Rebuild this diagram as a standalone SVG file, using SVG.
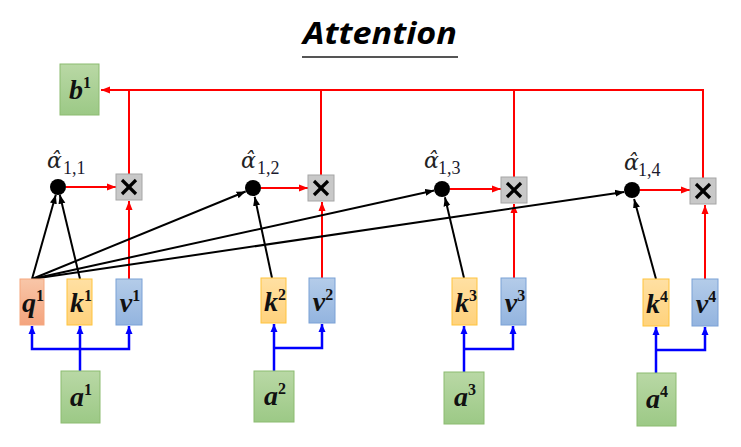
<svg xmlns="http://www.w3.org/2000/svg" width="741" height="447" viewBox="0 0 741 447">
<style>
.lbl{font-family:"Liberation Serif","DejaVu Serif",serif;font-weight:bold;font-style:italic;font-size:28px;fill:#111;text-anchor:middle}
.sup{font-size:16px;font-style:normal;font-weight:bold}
.al{font-family:"DejaVu Serif","Liberation Serif",serif;font-style:italic;font-size:22px;fill:#222}
.sub{font-family:"Liberation Serif","DejaVu Serif",serif;font-size:18px;fill:#1a1a2e}
.bk{stroke:#000;stroke-width:2;fill:none;marker-end:url(#ab)}
.rd{stroke:#f00;stroke-width:2;fill:none}
.rda{stroke:#f00;stroke-width:2;fill:none;marker-end:url(#ar)}
.bla{stroke:#00f;stroke-width:2.5;fill:none;marker-end:url(#au)}
.q{fill:url(#gq);stroke:#f5a77f;stroke-width:1}
.k{fill:url(#gk);stroke:#ffc33d;stroke-width:1}
.v{fill:url(#gv);stroke:#7aa1d6;stroke-width:1}
.g{fill:url(#gg);stroke:#8cbb70;stroke-width:1}
.x{fill:#c8c8c8;stroke:#a6a6a6;stroke-width:1}
.xl{stroke:#000;stroke-width:3.2;stroke-linecap:butt}
</style>
<defs>
<linearGradient id="gq" x1="0" y1="0" x2="0" y2="1"><stop offset="0" stop-color="#f8c6a8"/><stop offset="1" stop-color="#f4a47e"/></linearGradient>
<linearGradient id="gk" x1="0" y1="0" x2="0" y2="1"><stop offset="0" stop-color="#ffe0a3"/><stop offset="1" stop-color="#ffd27c"/></linearGradient>
<linearGradient id="gv" x1="0" y1="0" x2="0" y2="1"><stop offset="0" stop-color="#b4cce9"/><stop offset="1" stop-color="#93b4df"/></linearGradient>
<linearGradient id="gg" x1="0" y1="0" x2="0" y2="1"><stop offset="0" stop-color="#b9d8a5"/><stop offset="1" stop-color="#9cc986"/></linearGradient>
<marker id="ab" markerUnits="userSpaceOnUse" markerWidth="10" markerHeight="10" refX="9" refY="5" orient="auto"><path d="M0,1.5 L9,5 L0,8.5 z" fill="#000"/></marker>
<marker id="ar" markerUnits="userSpaceOnUse" markerWidth="10" markerHeight="10" refX="9" refY="5" orient="auto"><path d="M0,1.5 L9,5 L0,8.5 z" fill="#f00"/></marker>
<marker id="au" markerUnits="userSpaceOnUse" markerWidth="10" markerHeight="10" refX="8" refY="5" orient="auto"><path d="M0,1.5 L8,5 L0,8.5 z" fill="#00f"/></marker>
<g id="mul"><rect class="x" x="0" y="0" width="26" height="26"/><line class="xl" x1="6" y1="6" x2="20" y2="20"/><line class="xl" x1="20" y1="6" x2="6" y2="20"/></g>
</defs>

<g id="title">
<text x="380" y="44" font-family="'Open Sans','Liberation Sans',sans-serif" font-weight="bold" font-style="italic" font-size="31" text-anchor="middle" textLength="154" lengthAdjust="spacingAndGlyphs" fill="#000">Attention</text>
<line x1="302" y1="57" x2="458" y2="57" stroke="#555" stroke-width="2"/>
</g>

<g id="connectors">
<polyline class="rda" points="703,178 703,90 101,90"/>
<line class="rd" x1="129" y1="174" x2="129" y2="90"/>
<line class="rd" x1="321" y1="175" x2="321" y2="90"/>
<line class="rd" x1="514" y1="177" x2="514" y2="90"/>
<line class="rda" x1="66" y1="187" x2="116" y2="187"/>
<line class="rda" x1="261" y1="188" x2="308" y2="188"/>
<line class="rda" x1="450" y1="189" x2="501" y2="189"/>
<line class="rda" x1="640" y1="190" x2="690" y2="190"/>
<line class="rda" x1="129" y1="279" x2="129" y2="201"/>
<line class="rda" x1="322" y1="278" x2="322" y2="202"/>
<line class="rda" x1="514" y1="278" x2="514" y2="204"/>
<line class="rda" x1="705" y1="279" x2="705" y2="205"/>
<line class="bk" x1="32" y1="279" x2="55.8" y2="194.7"/>
<line class="bk" x1="80" y1="279" x2="59.8" y2="194.8"/>
<line class="bk" x1="32" y1="279" x2="245.6" y2="191.5"/>
<line class="bk" x1="32" y1="279" x2="434.2" y2="190.5"/>
<line class="bk" x1="32" y1="279" x2="624.1" y2="192"/>
<line class="bk" x1="272" y1="278" x2="254.7" y2="196.8"/>
<line class="bk" x1="464" y1="278" x2="444.9" y2="197.3"/>
<line class="bk" x1="656" y1="279" x2="634.1" y2="199"/>
<line class="bla" x1="80" y1="371" x2="80" y2="326"/>
<polyline class="bla" points="80,349 32,349 32,326"/>
<polyline class="bla" points="80,349 129,349 129,326"/>
<line class="bla" x1="274" y1="371" x2="274" y2="324"/>
<polyline class="bla" points="274,348 322,348 322,324"/>
<line class="bla" x1="464" y1="372" x2="464" y2="326"/>
<polyline class="bla" points="464,349 513,349 513,326"/>
<line class="bla" x1="656" y1="373" x2="656" y2="327"/>
<polyline class="bla" points="656,350 705,350 705,327"/>
</g>

<g id="b1"><rect class="g" x="60" y="64" width="39" height="51"/><text class="lbl" x="80" y="99">b<tspan class="sup" dy="-11">1</tspan></text></g>

<g id="mul1"><use href="#mul" x="116" y="174"/></g>
<g id="mul2"><use href="#mul" x="308" y="175"/></g>
<g id="mul3"><use href="#mul" x="501" y="177"/></g>
<g id="mul4"><use href="#mul" x="690" y="178"/></g>

<g id="alpha11"><circle cx="58" cy="187" r="8"/><text class="al" x="47" y="168">α̂</text><text class="sub" x="63" y="174">1,1</text></g>
<g id="alpha12"><circle cx="253" cy="188" r="8"/><text class="al" x="241" y="168">α̂</text><text class="sub" x="257" y="174">1,2</text></g>
<g id="alpha13"><circle cx="442" cy="189" r="8"/><text class="al" x="424" y="168">α̂</text><text class="sub" x="438" y="174">1,3</text></g>
<g id="alpha14"><circle cx="632" cy="190" r="8"/><text class="al" x="624" y="170">α̂</text><text class="sub" x="638" y="176">1,4</text></g>

<g id="q1"><rect class="q" x="20" y="279" width="24" height="46"/><text class="lbl" x="33" y="312">q<tspan class="sup" dy="-11">1</tspan></text></g>
<g id="k1"><rect class="k" x="67" y="279" width="25" height="46"/><text class="lbl" x="81" y="312">k<tspan class="sup" dy="-11">1</tspan></text></g>
<g id="v1"><rect class="v" x="116" y="279" width="26" height="46"/><text class="lbl" x="130" y="312">v<tspan class="sup" dy="-11">1</tspan></text></g>
<g id="a1"><rect class="g" x="61" y="371" width="39" height="52"/><text class="lbl" x="81" y="406">a<tspan class="sup" dy="-11">1</tspan></text></g>

<g id="k2"><rect class="k" x="261" y="278" width="25" height="45"/><text class="lbl" x="275" y="311">k<tspan class="sup" dy="-11">2</tspan></text></g>
<g id="v2"><rect class="v" x="309" y="278" width="26" height="45"/><text class="lbl" x="323" y="311">v<tspan class="sup" dy="-11">2</tspan></text></g>
<g id="a2"><rect class="g" x="254" y="371" width="40" height="51"/><text class="lbl" x="275" y="405">a<tspan class="sup" dy="-11">2</tspan></text></g>

<g id="k3"><rect class="k" x="452" y="278" width="25" height="47"/><text class="lbl" x="466" y="312">k<tspan class="sup" dy="-11">3</tspan></text></g>
<g id="v3"><rect class="v" x="501" y="278" width="25" height="47"/><text class="lbl" x="515" y="312">v<tspan class="sup" dy="-11">3</tspan></text></g>
<g id="a3"><rect class="g" x="444" y="372" width="40" height="52"/><text class="lbl" x="465" y="406">a<tspan class="sup" dy="-11">3</tspan></text></g>

<g id="k4"><rect class="k" x="643" y="279" width="26" height="47"/><text class="lbl" x="657" y="313">k<tspan class="sup" dy="-11">4</tspan></text></g>
<g id="v4"><rect class="v" x="692" y="279" width="26" height="47"/><text class="lbl" x="706" y="313">v<tspan class="sup" dy="-11">4</tspan></text></g>
<g id="a4"><rect class="g" x="637" y="373" width="39" height="53"/><text class="lbl" x="657" y="408">a<tspan class="sup" dy="-11">4</tspan></text></g>
</svg>
